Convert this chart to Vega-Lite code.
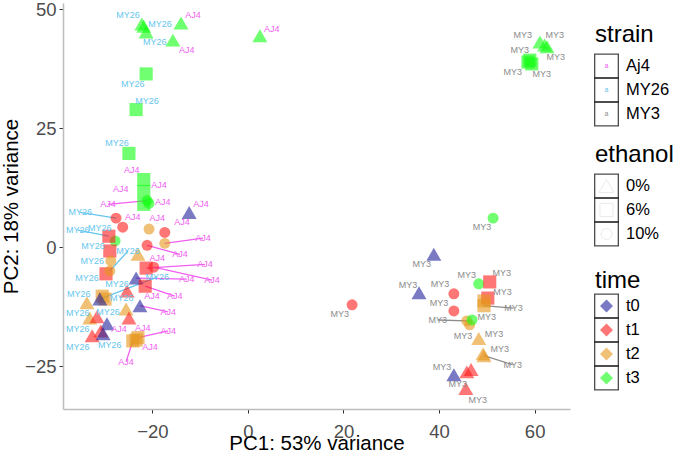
{
  "$schema": "https://vega.github.io/schema/vega-lite/v6.json",
  "padding": {"left": 1, "top": 0, "right": 0, "bottom": 0},
  "spacing": 22,
  "config": {
    "font": "Liberation Sans",
    "view": {"stroke": null},
    "legend": {"disable": true},
    "axis": {
      "grid": false,
      "domainColor": "#bdbdbd",
      "domainWidth": 1.5,
      "tickColor": "#333333",
      "tickWidth": 1,
      "tickSize": 4,
      "labelFontSize": 18.5,
      "labelColor": "#4d4d4d",
      "labelPadding": 3,
      "titleFontSize": 20.5,
      "titleFontWeight": "normal",
      "titleColor": "#000000"
    }
  },
  "datasets": {
    "pts": [
      {"s":"Aj4","lab":"AJ4","e":"0%","t":"t3","x":-14.0,"y":47.1,"lx":-11.5,"ly":48.7,"seg":0},
      {"s":"Aj4","lab":"AJ4","e":"0%","t":"t3","x":-15.7,"y":43.5,"lx":-12.8,"ly":41.4,"seg":0},
      {"s":"Aj4","lab":"AJ4","e":"0%","t":"t3","x":2.5,"y":44.4,"lx":5.0,"ly":45.8,"seg":0},
      {"s":"Aj4","lab":"AJ4","e":"6%","t":"t3","x":-21.8,"y":14.2,"lx":-24.3,"ly":16.3,"seg":0},
      {"s":"Aj4","lab":"AJ4","e":"6%","t":"t3","x":-21.8,"y":11.7,"lx":-18.6,"ly":13.0,"seg":0},
      {"s":"Aj4","lab":"AJ4","e":"6%","t":"t3","x":-21.8,"y":9.0,"lx":-26.6,"ly":12.3,"seg":0},
      {"s":"Aj4","lab":"AJ4","e":"10%","t":"t3","x":-21.1,"y":9.8,"lx":-29.3,"ly":9.0,"seg":1},
      {"s":"Aj4","lab":"AJ4","e":"10%","t":"t3","x":-20.7,"y":9.2,"lx":-17.8,"ly":9.4,"seg":0},
      {"s":"Aj4","lab":"AJ4","e":"0%","t":"t0","x":-12.3,"y":7.3,"lx":-9.8,"ly":9.0,"seg":0},
      {"s":"Aj4","lab":"AJ4","e":"10%","t":"t1","x":-26.2,"y":4.2,"lx":-24.1,"ly":6.3,"seg":0},
      {"s":"Aj4","lab":"AJ4","e":"10%","t":"t2","x":-20.7,"y":3.8,"lx":-19.0,"ly":6.1,"seg":0},
      {"s":"Aj4","lab":"AJ4","e":"10%","t":"t1","x":-17.4,"y":3.1,"lx":-13.8,"ly":5.2,"seg":0},
      {"s":"Aj4","lab":"AJ4","e":"10%","t":"t2","x":-17.4,"y":0.8,"lx":-9.4,"ly":1.9,"seg":1},
      {"s":"Aj4","lab":"AJ4","e":"10%","t":"t1","x":-21.1,"y":0.4,"lx":-14.2,"ly":-1.5,"seg":1},
      {"s":"Aj4","lab":"AJ4","e":"0%","t":"t2","x":-23.0,"y":-1.5,"lx":-19.0,"ly":-2.3,"seg":0},
      {"s":"Aj4","lab":"AJ4","e":"6%","t":"t1","x":-21.3,"y":-4.4,"lx":-9.0,"ly":-3.6,"seg":1},
      {"s":"Aj4","lab":"AJ4","e":"10%","t":"t1","x":-19.7,"y":-4.2,"lx":-7.5,"ly":-6.9,"seg":1},
      {"s":"Aj4","lab":"AJ4","e":"0%","t":"t0","x":-23.4,"y":-6.5,"lx":-12.8,"ly":-6.7,"seg":1},
      {"s":"Aj4","lab":"AJ4","e":"6%","t":"t1","x":-21.5,"y":-8.2,"lx":-15.3,"ly":-10.3,"seg":1},
      {"s":"Aj4","lab":"AJ4","e":"0%","t":"t0","x":-22.6,"y":-12.3,"lx":-16.7,"ly":-13.6,"seg":1},
      {"s":"Aj4","lab":"AJ4","e":"0%","t":"t2","x":-25.5,"y":-13.0,"lx":-20.1,"ly":-10.3,"seg":0},
      {"s":"Aj4","lab":"AJ4","e":"0%","t":"t1","x":-24.9,"y":-14.9,"lx":-22.0,"ly":-16.9,"seg":0},
      {"s":"Aj4","lab":"AJ4","e":"0%","t":"t0","x":-29.5,"y":-16.1,"lx":-27.0,"ly":-17.2,"seg":0},
      {"s":"Aj4","lab":"AJ4","e":"6%","t":"t2","x":-24.1,"y":-19.7,"lx":-25.5,"ly":-24.1,"seg":1},
      {"s":"Aj4","lab":"AJ4","e":"6%","t":"t2","x":-23.0,"y":-19.0,"lx":-16.7,"ly":-17.6,"seg":1},
      {"s":"Aj4","lab":"AJ4","e":"6%","t":"t2","x":-23.4,"y":-19.5,"lx":-20.5,"ly":-20.9,"seg":0},
      {"s":"MY26","lab":"MY26","e":"0%","t":"t3","x":-22.2,"y":46.9,"lx":-25.1,"ly":48.7,"seg":0},
      {"s":"MY26","lab":"MY26","e":"0%","t":"t3","x":-21.8,"y":46.4,"lx":-18.4,"ly":46.9,"seg":0},
      {"s":"MY26","lab":"MY26","e":"0%","t":"t3","x":-21.3,"y":45.2,"lx":-19.5,"ly":43.1,"seg":0},
      {"s":"MY26","lab":"MY26","e":"6%","t":"t3","x":-21.3,"y":36.4,"lx":-24.1,"ly":34.3,"seg":0},
      {"s":"MY26","lab":"MY26","e":"6%","t":"t3","x":-23.4,"y":28.9,"lx":-21.1,"ly":30.8,"seg":0},
      {"s":"MY26","lab":"MY26","e":"6%","t":"t3","x":-24.9,"y":19.7,"lx":-27.4,"ly":21.8,"seg":0},
      {"s":"MY26","lab":"MY26","e":"10%","t":"t3","x":-27.8,"y":1.3,"lx":-31.0,"ly":4.0,"seg":0},
      {"s":"MY26","lab":"MY26","e":"10%","t":"t1","x":-27.6,"y":6.1,"lx":-35.1,"ly":7.3,"seg":1},
      {"s":"MY26","lab":"MY26","e":"6%","t":"t1","x":-29.1,"y":2.3,"lx":-35.6,"ly":3.6,"seg":1},
      {"s":"MY26","lab":"MY26","e":"6%","t":"t1","x":-28.9,"y":-0.8,"lx":-32.4,"ly":0.2,"seg":0},
      {"s":"MY26","lab":"MY26","e":"10%","t":"t2","x":-28.7,"y":-2.9,"lx":-32.6,"ly":-2.9,"seg":0},
      {"s":"MY26","lab":"MY26","e":"6%","t":"t1","x":-29.7,"y":-5.6,"lx":-33.7,"ly":-6.5,"seg":0},
      {"s":"MY26","lab":"MY26","e":"10%","t":"t2","x":-28.9,"y":-5.0,"lx":-25.1,"ly":-0.8,"seg":1},
      {"s":"MY26","lab":"MY26","e":"0%","t":"t1","x":-25.3,"y":-9.2,"lx":-27.4,"ly":-7.7,"seg":0},
      {"s":"MY26","lab":"MY26","e":"6%","t":"t2","x":-30.5,"y":-10.3,"lx":-35.4,"ly":-9.8,"seg":0},
      {"s":"MY26","lab":"MY26","e":"6%","t":"t2","x":-29.9,"y":-10.9,"lx":-26.4,"ly":-10.7,"seg":0},
      {"s":"MY26","lab":"MY26","e":"0%","t":"t0","x":-31.0,"y":-10.9,"lx":-19.0,"ly":-6.3,"seg":1},
      {"s":"MY26","lab":"MY26","e":"0%","t":"t2","x":-33.7,"y":-11.7,"lx":-35.6,"ly":-13.8,"seg":0},
      {"s":"MY26","lab":"MY26","e":"0%","t":"t2","x":-33.1,"y":-14.9,"lx":-35.6,"ly":-17.2,"seg":0},
      {"s":"MY26","lab":"MY26","e":"0%","t":"t1","x":-31.6,"y":-14.6,"lx":-29.3,"ly":-13.6,"seg":0},
      {"s":"MY26","lab":"MY26","e":"0%","t":"t1","x":-32.6,"y":-18.6,"lx":-35.6,"ly":-20.9,"seg":0},
      {"s":"MY26","lab":"MY26","e":"0%","t":"t1","x":-30.8,"y":-17.6,"lx":-28.9,"ly":-20.5,"seg":0},
      {"s":"MY26","lab":"","e":"0%","t":"t0","x":-30.3,"y":-18.2,"lx":-30.3,"ly":-18.2,"seg":0},
      {"s":"MY3","lab":"MY3","e":"0%","t":"t0","x":38.9,"y":-1.5,"lx":36.4,"ly":-3.6,"seg":0},
      {"s":"MY3","lab":"MY3","e":"0%","t":"t0","x":35.8,"y":-9.6,"lx":33.5,"ly":-7.9,"seg":0},
      {"s":"MY3","lab":"MY3","e":"10%","t":"t1","x":21.8,"y":-12.1,"lx":19.2,"ly":-14.0,"seg":0},
      {"s":"MY3","lab":"MY3","e":"10%","t":"t1","x":43.1,"y":-9.8,"lx":40.2,"ly":-7.7,"seg":0},
      {"s":"MY3","lab":"MY3","e":"10%","t":"t3","x":48.3,"y":-7.7,"lx":45.8,"ly":-5.9,"seg":0},
      {"s":"MY3","lab":"MY3","e":"6%","t":"t1","x":50.6,"y":-7.3,"lx":53.1,"ly":-5.4,"seg":0},
      {"s":"MY3","lab":"MY3","e":"6%","t":"t1","x":50.2,"y":-10.7,"lx":53.3,"ly":-9.4,"seg":0},
      {"s":"MY3","lab":"MY3","e":"10%","t":"t1","x":43.1,"y":-13.4,"lx":40.0,"ly":-11.7,"seg":0},
      {"s":"MY3","lab":"MY3","e":"6%","t":"t2","x":49.4,"y":-11.3,"lx":50.0,"ly":-14.6,"seg":0},
      {"s":"MY3","lab":"MY3","e":"6%","t":"t2","x":49.4,"y":-12.3,"lx":55.6,"ly":-12.8,"seg":1},
      {"s":"MY3","lab":"MY3","e":"10%","t":"t2","x":45.8,"y":-15.5,"lx":39.7,"ly":-15.3,"seg":1},
      {"s":"MY3","lab":"MY3","e":"10%","t":"t2","x":46.4,"y":-16.3,"lx":45.0,"ly":-18.6,"seg":0},
      {"s":"MY3","lab":"","e":"10%","t":"t3","x":46.9,"y":-15.3,"lx":46.9,"ly":-15.3,"seg":0},
      {"s":"MY3","lab":"MY3","e":"0%","t":"t2","x":48.3,"y":-19.2,"lx":51.5,"ly":-18.2,"seg":0},
      {"s":"MY3","lab":"MY3","e":"0%","t":"t2","x":49.2,"y":-22.4,"lx":52.7,"ly":-21.3,"seg":0},
      {"s":"MY3","lab":"MY3","e":"0%","t":"t2","x":49.4,"y":-22.8,"lx":55.4,"ly":-24.7,"seg":1},
      {"s":"MY3","lab":"MY3","e":"0%","t":"t0","x":43.1,"y":-26.8,"lx":40.6,"ly":-25.1,"seg":0},
      {"s":"MY3","lab":"MY3","e":"0%","t":"t1","x":45.8,"y":-26.2,"lx":43.9,"ly":-28.7,"seg":0},
      {"s":"MY3","lab":"","e":"0%","t":"t1","x":46.7,"y":-25.7,"lx":46.7,"ly":-25.7,"seg":0},
      {"s":"MY3","lab":"MY3","e":"0%","t":"t1","x":45.6,"y":-29.7,"lx":48.1,"ly":-32.2,"seg":0},
      {"s":"MY3","lab":"MY3","e":"10%","t":"t3","x":51.3,"y":6.1,"lx":49.0,"ly":4.2,"seg":0},
      {"s":"MY3","lab":"MY3","e":"0%","t":"t3","x":61.1,"y":43.1,"lx":57.5,"ly":44.6,"seg":0},
      {"s":"MY3","lab":"MY3","e":"0%","t":"t3","x":62.1,"y":42.5,"lx":64.2,"ly":44.6,"seg":0},
      {"s":"MY3","lab":"MY3","e":"0%","t":"t3","x":62.6,"y":42.1,"lx":64.4,"ly":40.0,"seg":0},
      {"s":"MY3","lab":"MY3","e":"6%","t":"t3","x":58.6,"y":38.9,"lx":55.4,"ly":36.8,"seg":0},
      {"s":"MY3","lab":"MY3","e":"6%","t":"t3","x":59.4,"y":38.5,"lx":61.5,"ly":36.4,"seg":0},
      {"s":"MY3","lab":"MY3","e":"6%","t":"t3","x":59.0,"y":39.3,"lx":56.9,"ly":41.4,"seg":0}
    ],
    "leg": [
      {"slot":"strain","kind":"title","label":"strain"},
      {"slot":"Aj4","kind":"strain","s":"Aj4","label":"Aj4"},
      {"slot":"MY26","kind":"strain","s":"MY26","label":"MY26"},
      {"slot":"MY3","kind":"strain","s":"MY3","label":"MY3"},
      {"slot":"ethanol","kind":"title","label":"ethanol"},
      {"slot":"0%","kind":"ethanol","e":"0%","label":"0%"},
      {"slot":"6%","kind":"ethanol","e":"6%","label":"6%"},
      {"slot":"10%","kind":"ethanol","e":"10%","label":"10%"},
      {"slot":"time","kind":"title","label":"time"},
      {"slot":"t0","kind":"time","t":"t0","label":"t0"},
      {"slot":"t1","kind":"time","t":"t1","label":"t1"},
      {"slot":"t2","kind":"time","t":"t2","label":"t2"},
      {"slot":"t3","kind":"time","t":"t3","label":"t3"}
    ]
  },
  "hconcat": [
    {
      "width": 507,
      "height": 406,
      "data": {"name": "pts"},
      "encoding": {
        "x": {"field": "x", "type": "quantitative",
              "scale": {"domain": [-38.7, 67.4], "nice": false, "zero": false},
              "axis": {"values": [-20, 0, 20, 40, 60], "title": "PC1: 53% variance", "titlePadding": -7, "labelPadding": 9}},
        "y": {"field": "y", "type": "quantitative",
              "scale": {"domain": [-34.0, 51.3], "nice": false, "zero": false},
              "axis": {"values": [-25, 0, 25, 50], "title": "PC2: 18% variance", "titlePadding": 3}}
      },
      "layer": [
        {
          "transform": [{"filter": "datum.seg == 1"}],
          "mark": {"type": "rule", "strokeWidth": 1.3, "clip": true},
          "encoding": {
            "x2": {"field": "lx"},
            "y2": {"field": "ly"},
            "color": {"field": "s", "type": "nominal",
                      "scale": {"domain": ["Aj4", "MY26", "MY3"], "range": ["#f060f0", "#66c6ee", "#8c8c8c"]}}
          }
        },
        {
          "mark": {"type": "point", "filled": true, "opacity": 0.6, "strokeWidth": 0},
          "encoding": {
            "shape": {"field": "e", "type": "nominal",
                      "scale": {"domain": ["0%", "6%", "10%"], "range": ["triangle-up", "square", "circle"]}},
            "size": {"field": "e", "type": "nominal",
                     "scale": {"domain": ["0%", "6%", "10%"], "range": [225, 120, 135]}},
            "fill": {"field": "t", "type": "nominal",
                     "scale": {"domain": ["t0", "t1", "t2", "t3"], "range": ["#20209c", "#ff1a1a", "#e6961a", "#11ff11"]}}
          }
        },
        {
          "mark": {"type": "text", "fontSize": 9, "clip": true},
          "encoding": {
            "x": {"field": "lx", "type": "quantitative"},
            "y": {"field": "ly", "type": "quantitative"},
            "text": {"field": "lab"},
            "color": {"field": "s", "type": "nominal"}
          }
        }
      ]
    },
    {
      "width": 88,
      "height": 390,
      "data": {"name": "leg"},
      "encoding": {
        "y": {"field": "slot", "type": "ordinal",
              "scale": {"type": "point", "padding": 0.625,
                        "domain": ["_a", "strain", "Aj4", "MY26", "MY3", "_b", "ethanol", "0%", "6%", "10%", "_c", "time", "t0", "t1", "t2", "t3"]},
              "axis": null}
      },
      "layer": [
        {
          "transform": [{"filter": "datum.kind != 'title'"}],
          "mark": {"type": "point", "shape": "square", "filled": false, "stroke": "#000000", "strokeWidth": 1.3, "size": 560},
          "encoding": {"x": {"datum": 0.523, "type": "quantitative", "scale": {"domain": [0, 4]}, "axis": null}}
        },
        {
          "transform": [{"filter": "datum.kind == 'strain'"}],
          "mark": {"type": "text", "text": "a", "fontSize": 7},
          "encoding": {
            "x": {"datum": 0.523, "type": "quantitative"},
            "color": {"field": "s", "type": "nominal"}
          }
        },
        {
          "transform": [{"filter": "datum.kind == 'ethanol'"}],
          "mark": {"type": "point", "filled": false, "stroke": "#e3e3e3", "strokeWidth": 1},
          "encoding": {
            "x": {"datum": 0.523, "type": "quantitative"},
            "shape": {"field": "e", "type": "nominal"},
            "size": {"field": "e", "type": "nominal"}
          }
        },
        {
          "transform": [{"filter": "datum.kind == 'time'"}],
          "mark": {"type": "point", "shape": "diamond", "filled": true, "opacity": 0.6, "size": 170, "strokeWidth": 0},
          "encoding": {
            "x": {"datum": 0.523, "type": "quantitative"},
            "fill": {"field": "t", "type": "nominal"}
          }
        },
        {
          "transform": [{"filter": "datum.kind != 'title'"}],
          "mark": {"type": "text", "align": "left", "baseline": "middle", "fontSize": 16.5, "color": "#000000"},
          "encoding": {
            "x": {"datum": 1.41, "type": "quantitative"},
            "text": {"field": "label"}
          }
        },
        {
          "transform": [{"filter": "datum.kind == 'title' && datum.label != 'time'"}],
          "mark": {"type": "text", "align": "left", "baseline": "alphabetic", "fontSize": 24, "color": "#000000"},
          "encoding": {
            "x": {"datum": 0, "type": "quantitative"},
            "text": {"field": "label"}
          }
        },
        {
          "transform": [{"filter": "datum.label == 'time'"}],
          "mark": {"type": "text", "align": "left", "baseline": "alphabetic", "fontSize": 24, "color": "#000000", "dy": 6},
          "encoding": {
            "x": {"datum": 0, "type": "quantitative"},
            "text": {"field": "label"}
          }
        }
      ]
    }
  ]
}
